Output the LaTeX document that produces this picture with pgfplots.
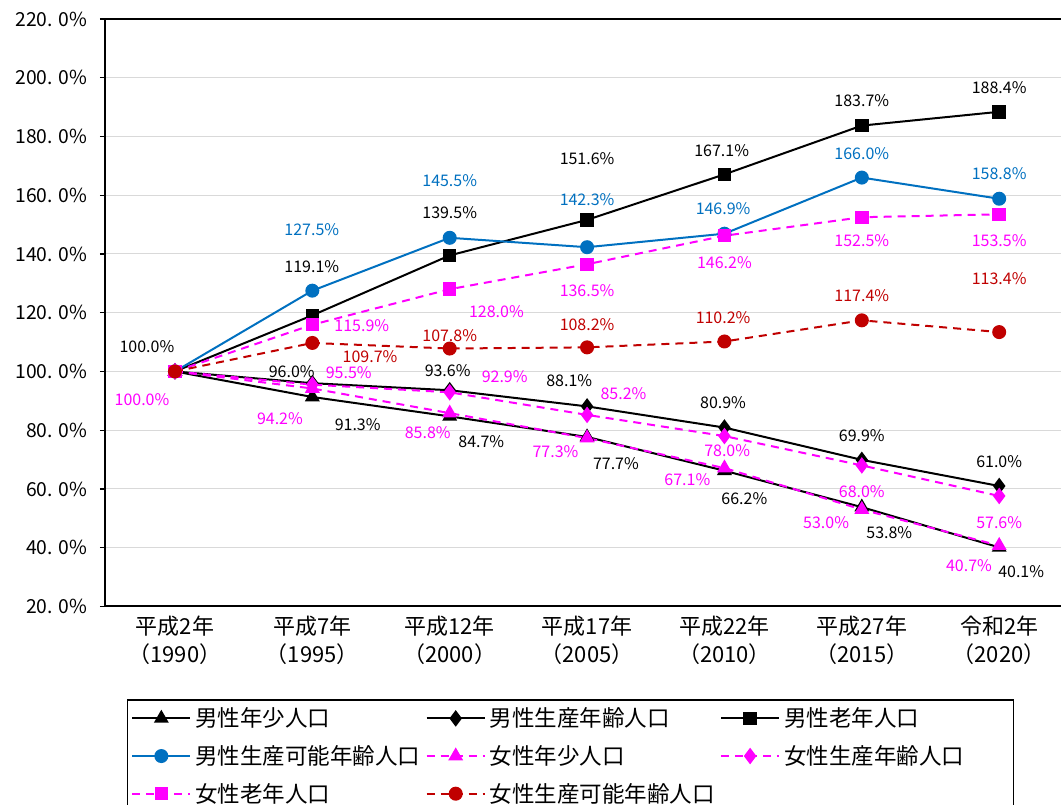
\documentclass[border=0pt]{standalone}
\usepackage{fontspec}
\setmainfont{Noto Sans CJK JP}
\usepackage{pgfplots}
\pgfplotsset{compat=1.18}
\definecolor{mblue}{RGB}{0,112,192}
\definecolor{mmag}{RGB}{255,0,255}
\definecolor{mred}{RGB}{192,0,0}
\definecolor{gridgray}{RGB}{217,217,217}
\newcommand{\lbl}[4]{\node[text=#1,font=\fontsize{12}{12}\selectfont,inner sep=0pt] at (axis cs:#2,#3) {#4};}
\newcommand{\yl}[1]{#1.\hspace{0.3em}0\%}
\newcommand{\lgent}[1]{\makebox[172pt][l]{#1}}
\newcommand{\lgentc}[1]{\makebox[168pt][l]{#1}}
\begin{document}
\begin{tikzpicture}
\begin{axis}[
  scale only axis, width=717.75pt, height=441pt,
  xmin=-0.51, xmax=6.45, ymin=20, ymax=220,
  axis x line*=bottom, axis y line*=left,
  axis line style={black, line width=1.5pt},
  xtick={0,...,6},
  xticklabels={{平成2年\\（1990）},{平成7年\\（1995）},{平成12年\\（2000）},{平成17年\\（2005）},{平成22年\\（2010）},{平成27年\\（2015）},{令和2年\\（2020）}},
  xticklabel style={align=center, font=\fontsize{16.5}{21}\selectfont},
  x tick style={draw=none},
  extra x ticks={-0.5,0.5,1.5,2.5,3.5,4.5,5.5},
  extra x tick labels={},
  extra x tick style={tick style={black, line width=1pt}, major tick length=3.75pt},
  ytick={20,40,...,220},
  yticklabels={\yl{20},\yl{40},\yl{60},\yl{80},\yl{100},\yl{120},\yl{140},\yl{160},\yl{180},\yl{200},\yl{220}},
  yticklabel style={font=\fontsize{14.5}{14.5}\selectfont, xshift=-6pt},
  tick align=outside, major tick length=3.75pt, y tick style={black, line width=1pt},
  ymajorgrids, grid style={gridgray, line width=0.75pt},
  clip=false,
  legend columns=3,
  legend cell align=left,
  legend style={at={(axis description cs:0.0228,-0.158)}, anchor=north west, draw=black, line width=1pt,
    font=\fontsize{16.9}{20}\selectfont, row sep=8.5pt, inner xsep=3pt, inner ysep=4pt, overlay,
    nodes={inner xsep=1pt},
    /tikz/every odd column/.append style={column sep=2pt}},
  legend image code/.code={\draw[mark repeat=2,mark phase=2,#1] plot coordinates {(0pt,0pt) (21.75pt,0pt) (43.5pt,0pt)};},
  every axis plot/.append style={line width=1.5pt},
]
\draw[black, line width=1.5pt] (rel axis cs:0,1) -- (rel axis cs:1,1);
% male young
\addplot[black, mark=triangle*, mark size=5pt, mark options={solid}] coordinates {(0,100) (1,91.3) (2,84.7) (3,77.7) (4,66.2) (5,53.8) (6,40.1)};
\addlegendentry{\lgent{男性年少人口}}
% male working
\addplot[black, mark=diamond*, mark size=5pt, mark options={solid}] coordinates {(0,100) (1,96.0) (2,93.6) (3,88.1) (4,80.9) (5,69.9) (6,61.0)};
\addlegendentry{\lgent{男性生産年齢人口}}
% male old
\addplot[black, mark=square*, mark size=4.3pt, mark options={solid}] coordinates {(0,100) (1,119.1) (2,139.5) (3,151.6) (4,167.1) (5,183.7) (6,188.4)};
\addlegendentry{\lgentc{男性老年人口}}
% male capable
\addplot[mblue, mark=*, mark size=4.5pt, mark options={solid}] coordinates {(0,100) (1,127.5) (2,145.5) (3,142.3) (4,146.9) (5,166.0) (6,158.8)};
\addlegendentry{\lgent{男性生産可能年齢人口}}
% female young
\addplot[mmag, dash pattern=on 6pt off 4.5pt, mark=triangle*, mark size=5pt, mark options={solid}] coordinates {(0,100) (1,94.2) (2,85.8) (3,77.3) (4,67.1) (5,53.0) (6,40.7)};
\addlegendentry{\lgent{女性年少人口}}
% female working
\addplot[mmag, dash pattern=on 6pt off 4.5pt, mark=diamond*, mark size=5pt, mark options={solid}] coordinates {(0,100) (1,95.5) (2,92.9) (3,85.2) (4,78.0) (5,68.0) (6,57.6)};
\addlegendentry{\lgentc{女性生産年齢人口}}
% female old
\addplot[mmag, dash pattern=on 6pt off 4.5pt, mark=square*, mark size=4.3pt, mark options={solid}] coordinates {(0,100) (1,115.9) (2,128.0) (3,136.5) (4,146.2) (5,152.5) (6,153.5)};
\addlegendentry{\lgent{女性老年人口}}
% female capable
\addplot[mred, dash pattern=on 6pt off 4.5pt, mark=*, mark size=4.5pt, mark options={solid}] coordinates {(0,100) (1,109.7) (2,107.8) (3,108.2) (4,110.2) (5,117.4) (6,113.4)};
\addlegendentry{\lgent{女性生産可能年齢人口}}
% labels male old
\lbl{black}{-0.204}{108.4}{100.0\%}
\lbl{black}{0.996}{135.6}{119.1\%}
\lbl{black}{2.0}{154.0}{139.5\%}
\lbl{black}{3.0}{172.4}{151.6\%}
\lbl{black}{3.98}{175.1}{167.1\%}
\lbl{black}{5.0}{192.1}{183.7\%}
\lbl{black}{6.0}{196.5}{188.4\%}
% blue
\lbl{mblue}{0.996}{148.2}{127.5\%}
\lbl{mblue}{2.0}{164.9}{145.5\%}
\lbl{mblue}{3.0}{158.4}{142.3\%}
\lbl{mblue}{3.99}{155.4}{146.9\%}
\lbl{mblue}{5.0}{174.1}{166.0\%}
\lbl{mblue}{6.0}{167.3}{158.8\%}
% magenta old
\lbl{mmag}{1.36}{115.6}{115.9\%}
\lbl{mmag}{2.34}{120.3}{128.0\%}
\lbl{mmag}{3.0}{127.5}{136.5\%}
\lbl{mmag}{4.0}{137.0}{146.2\%}
\lbl{mmag}{5.0}{144.5}{152.5\%}
\lbl{mmag}{6.0}{144.5}{153.5\%}
% dark red
\lbl{mred}{1.42}{105.0}{109.7\%}
\lbl{mred}{2.0}{112.2}{107.8\%}
\lbl{mred}{3.0}{115.9}{108.2\%}
\lbl{mred}{3.99}{118.3}{110.2\%}
\lbl{mred}{5.0}{125.8}{117.4\%}
\lbl{mred}{6.0}{131.6}{113.4\%}
% male working
\lbl{black}{0.85}{99.9}{96.0\%}
\lbl{black}{1.985}{100.3}{93.6\%}
\lbl{black}{2.87}{96.9}{88.1\%}
\lbl{black}{3.99}{89.4}{80.9\%}
\lbl{black}{5.0}{78.2}{69.9\%}
\lbl{black}{6.0}{69.3}{61.0\%}
% female working
\lbl{mmag}{1.265}{99.6}{95.5\%}
\lbl{mmag}{2.4}{98.2}{92.9\%}
\lbl{mmag}{3.265}{92.4}{85.2\%}
\lbl{mmag}{4.02}{73.1}{78.0\%}
\lbl{mmag}{5.0}{59.2}{68.0\%}
\lbl{mmag}{6.0}{48.4}{57.6\%}
% male young
\lbl{black}{1.33}{81.9}{91.3\%}
\lbl{black}{2.23}{76.1}{84.7\%}
\lbl{black}{3.21}{68.6}{77.7\%}
\lbl{black}{4.145}{56.7}{66.2\%}
\lbl{black}{5.2}{45.2}{53.8\%}
\lbl{black}{6.16}{31.9}{40.1\%}
% female young
\lbl{mmag}{-0.24}{90.4}{100.0\%}
\lbl{mmag}{0.764}{83.9}{94.2\%}
\lbl{mmag}{1.84}{79.2}{85.8\%}
\lbl{mmag}{2.77}{72.7}{77.3\%}
\lbl{mmag}{3.73}{63.3}{67.1\%}
\lbl{mmag}{4.74}{48.6}{53.0\%}
\lbl{mmag}{5.78}{33.9}{40.7\%}
\end{axis}
\path (-78.75pt,-148.5pt) rectangle (717.75pt,455.25pt);
\end{tikzpicture}
\end{document}
